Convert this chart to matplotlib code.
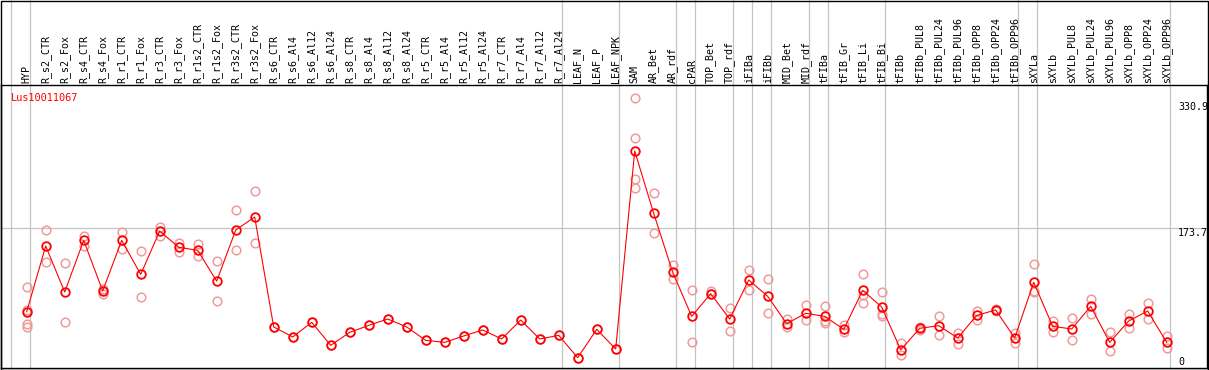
import numpy as np
import matplotlib
matplotlib.use('Agg')
import matplotlib.pyplot as plt
from matplotlib.patches import Rectangle
import matplotlib.transforms as mtransforms

###############################################################################
# DATA
###############################################################################
gene = 'Lus10011067'

samples = ['HYP',
           'R_s2_CTR', 'R_s2_Fox', 'R_s4_CTR', 'R_s4_Fox', 'R_r1_CTR', 'R_r1_Fox',
           'R_r3_CTR', 'R_r3_Fox', 'R_r1s2_CTR', 'R_r1s2_Fox', 'R_r3s2_CTR', 'R_r3s2_Fox',
           'R_s6_CTR', 'R_s6_Al4', 'R_s6_Al12', 'R_s6_Al24', 'R_s8_CTR', 'R_s8_Al4',
           'R_s8_Al12', 'R_s8_Al24', 'R_r5_CTR', 'R_r5_Al4', 'R_r5_Al12', 'R_r5_Al24',
           'R_r7_CTR', 'R_r7_Al4', 'R_r7_Al12', 'R_r7_Al24',
           'LEAF_N', 'LEAF_P', 'LEAF_NPK',
           'SAM', 'AR_Bet', 'AR_rdf',
           'cPAR',
           'TOP_Bet', 'TOP_rdf',
           'iFIBa',
           'iFIBb',
           'MID_Bet', 'MID_rdf',
           'tFIBa',
           'tFIB_Gr', 'tFIB_Li', 'tFIB_Bi',
           'tFIBb', 'tFIBb_PUL8', 'tFIBb_PUL24', 'tFIBb_PUL96', 'tFIBb_OPP8',
           'tFIBb_OPP24', 'tFIBb_OPP96',
           'sXYLa',
           'sXYLb', 'sXYLb_PUL8', 'sXYLb_PUL24', 'sXYLb_PUL96', 'sXYLb_OPP8',
           'sXYLb_OPP24', 'sXYLb_OPP96']

# number of samples in each group (separated by grey lines)
group_sizes = [1, 28, 3, 3, 1, 2, 1, 1, 2, 1, 3, 7, 1, 7]

# mean expression per sample
means = [65.3, 150.6, 90.9, 158, 92.2, 158, 113.8, 170, 149, 145, 105, 171.4, 188.3,
         45.5, 32.5, 51.5, 21.6, 38.5, 47.6, 55.8, 45.5, 28.1, 25.5, 33.8, 41.6,
         29.9, 54.5, 29.9, 34.6,
         5.6, 42.4, 16.9,
         274, 193, 116.5, 59.3, 88.7, 55.8, 106.5, 85.3, 49.8, 63.2, 59.3,
         42.4, 93, 71.4,
         15.8, 43.7, 47.2, 31.2, 60.6, 67.5, 31.2,
         103.5, 46.3, 42.9, 72.3, 25.5, 53.2, 66.2, 25.5]

# individual replicates per sample
replicates = [[97, 68, 49, 45], [171.4, 129.5], [128.6, 51.9], [164, 151],
              [94.4, 88.7], [168.4, 146.3], [143.7, 84], [175.8, 164],
              [154, 143.3], [153, 138], [130.7, 79], [198, 145], [221.7, 154.5],
              [45.5], [32.5], [51.5], [21.6], [38.5], [47.6], [55.8], [45.5],
              [28.1], [25.5], [33.8], [41.6], [29.9], [54.5], [29.9], [34.6],
              [5.6], [42.4], [16.9],
              [342.4, 290.5, 237.2, 225.6], [219, 167.1], [126, 107.4],
              [93, 25.5], [91.8, 87.9], [69.7, 39.8], [119, 93.5], [107.4, 63.2],
              [55.8, 45.9], [73.6, 54.1], [72.3, 52.8, 50.6], [48, 39],
              [113.8, 87, 76.2], [90.5, 61.9, 59.7], [24.3, 8.7],
              [45.5, 42], [59.3, 35.5], [37.7, 23.8], [66.7, 54.5], [69.2, 65.8],
              [37.2, 25.1], [126.9, 92.2, 91.5], [52.8, 39.4], [56.7, 28.1],
              [81.8, 61.9], [38.5, 13.9], [62.3, 43.7], [76.2, 55.4], [34.2, 17.8]]

y_max = 330.9
y_mid = 173.7

###############################################################################
# PLOT
###############################################################################
W, H = 1209, 370
fig = plt.figure(figsize=(W / 100, H / 100), dpi=100)
fig.patch.set_facecolor('white')

# plot area in pixels: x 1..1207, y 85..368 (from top)
ax = fig.add_axes([1 / W, 2 / H, 1206 / W, 283 / H])
x = np.arange(len(samples))

# pixel mapping: column i at 26.7 + 19*i ; value v at 362 - 0.77*v
ax.set_xlim((1 - 26.7) / 19, (1207 - 26.7) / 19)
ax.set_ylim((362 - 368) / 0.77, (362 - 85) / 0.77)
ax.set_xticks([])
ax.set_yticks([])
for s in ax.spines.values():
    s.set_color('black')
    s.set_linewidth(1.0)

mono = 'DejaVu Sans Mono'
grey = '#c4c4c4'

# horizontal grid line
ax.axhline(y_mid, color=grey, lw=0.9, zorder=1)

# group separators, reaching up through the header
ext = 368 / 283
edges = [-1] + list(np.cumsum(group_sizes) - 1)
for e in edges:
    ax.axvline(e + 0.19, ymin=0, ymax=ext, color=grey, lw=0.9, clip_on=False, zorder=1)

# replicates
for i, reps in enumerate(replicates):
    ax.plot([i] * len(reps), reps, 'o', ms=6.2, mfc='none', mec='#f29a9a',
            mew=1.1, zorder=2)

# means
ax.plot(x, means, '-', color='red', lw=0.8, zorder=3)
ax.plot(x, means, 'o', ms=6.2, mfc='none', mec='red', mew=1.3, zorder=4)

# header labels
trans = mtransforms.blended_transform_factory(ax.transData, ax.transAxes)
for i, name in enumerate(samples):
    ax.text(i, 1 + 2 / 283, name, transform=trans, rotation=90, ha='center',
            va='bottom', fontsize=7.2, family=mono, color='black', clip_on=False)

# gene name
ax.text(10 / 1206, 1 - 8 / 283, gene, transform=ax.transAxes, ha='left', va='top',
        fontsize=7.4, family=mono, color='red')

# scale labels on the right
tr2 = mtransforms.blended_transform_factory(ax.transAxes, ax.transData)
xr = (1178 - 1) / 1206
ax.text(xr, y_max, '330.9', transform=tr2, ha='left', va='center', fontsize=7.2,
        family=mono)
ax.text(xr, y_mid, '173.7', transform=tr2, ha='left', va='top', fontsize=7.2,
        family=mono)
ax.text(xr, 0, '0', transform=tr2, ha='left', va='center', fontsize=7.2,
        family=mono)

# outer frame of the whole picture
fig.add_artist(Rectangle((0.5 / W, 0.5 / H), 1207.5 / W, 369 / H, fill=False,
                         edgecolor='black', lw=1.0, transform=fig.transFigure))

fig.savefig('out.png', dpi=100)
